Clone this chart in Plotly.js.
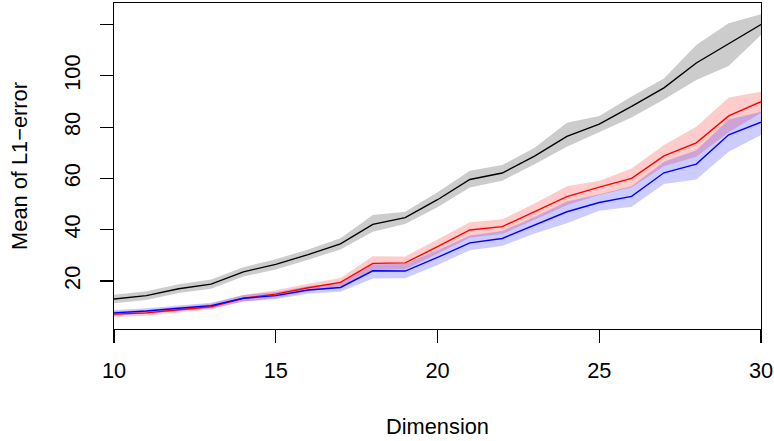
<!DOCTYPE html>
<html>
<head>
<meta charset="utf-8">
<script src="https://cdn.plot.ly/plotly-3.0.1.min.js"></script>
<style>html,body{margin:0;padding:0;background:#fff;}#chart{width:774px;height:441px;}</style>
</head>
<body>
<div id="chart"></div>
<script>
const dims = [10,11,12,13,14,15,16,17,18,19,20,21,22,23,24,25,26,27,28,29,30];

const blackMean  = [13.0,14.3,17.0,18.8,23.6,26.5,30.3,34.5,42.1,44.7,51.7,59.6,62.1,68.7,76.4,81.2,88.1,95.3,105.0,112.5,120.0];
const blackLower = [11.3,12.6,15.3,17.0,21.8,24.5,28.3,32.3,39.2,42.2,48.8,56.5,59.1,65.5,72.4,78.2,83.8,90.8,98.4,103.8,115.9];
const blackUpper = [14.7,16.0,18.7,20.6,25.4,28.5,32.3,36.7,45.7,47.0,54.6,63.0,65.2,72.0,81.7,84.3,91.9,99.0,112.0,120.5,124.0];

const redMean  = [7.1,7.6,8.8,10.0,13.3,14.9,17.4,19.5,26.9,27.1,33.4,39.9,41.2,47.0,52.9,56.6,60.0,68.8,73.9,84.4,89.9];
const redLower = [6.0,6.5,7.7,8.9,12.0,13.4,15.9,17.8,24.3,24.6,30.6,36.9,38.3,43.8,49.5,53.5,56.5,64.8,68.5,78.0,85.5];
const redUpper = [8.2,8.7,9.9,11.1,14.6,16.4,18.9,21.2,29.7,29.6,36.2,42.9,44.1,50.2,57.0,59.1,63.9,73.0,80.2,91.6,93.8];

const blueMean  = [7.6,8.3,9.4,10.4,13.3,14.3,16.5,17.5,24.0,23.9,29.2,34.9,36.6,41.8,47.0,50.6,53.0,62.2,65.6,77.0,81.9];
const blueLower = [6.5,7.2,8.3,9.3,12.0,12.9,15.0,15.8,21.0,21.1,26.3,32.0,33.7,38.5,42.5,47.4,49.0,57.8,59.6,70.4,76.9];
const blueUpper = [8.7,9.4,10.5,11.5,14.6,15.7,18.0,19.2,26.5,26.6,32.0,37.8,39.5,45.0,51.0,53.8,57.0,66.5,71.0,83.0,86.0];

const xTicks = [10,15,20,25,30];
const yTicks = [20,40,60,80,100,120];
const yTickText = ['20','40','60','80','100',''];

function band(lower, upper, color) {
  return [
    {x: dims, y: lower, mode: 'lines', line: {width: 0, color: color}, hoverinfo: 'skip', showlegend: false},
    {x: dims, y: upper, mode: 'lines', line: {width: 0, color: color}, fill: 'tonexty', fillcolor: color, hoverinfo: 'skip', showlegend: false}
  ];
}
function line(y, color) {
  return {x: dims, y: y, mode: 'lines', line: {width: 1.4, color: color}, showlegend: false};
}

const data = [].concat(
  band(blackLower, blackUpper, 'rgba(0,0,0,0.2)'),
  band(redLower, redUpper, 'rgba(255,0,0,0.2)'),
  band(blueLower, blueUpper, 'rgba(0,0,255,0.2)'),
  [line(blackMean, '#000000'), line(redMean, '#ff0000'), line(blueMean, '#0000ff')]
);

const fontFam = '"Liberation Sans", Arial, Helvetica, sans-serif';
const fs = 21.8;
const layout = {
  width: 774, height: 441,
  margin: {l: 114, r: 13, t: 3, b: 112},
  paper_bgcolor: '#fff', plot_bgcolor: '#fff',
  font: {family: fontFam, size: fs, color: '#000'},
  xaxis: {
    range: [10, 30], tickvals: xTicks, ticktext: xTicks.map(String),
    ticks: 'outside', ticklen: 13, tickwidth: 1.2, tickcolor: '#000',
    showline: true, linecolor: '#000', linewidth: 1.2, mirror: true,
    showgrid: false, zeroline: false, ticklabelstandoff: 9,
    tickfont: {family: fontFam, size: fs, color: '#000'},
    title: {text: 'Dimension', font: {family: fontFam, size: fs, color: '#000'}, standoff: 36}
  },
  yaxis: {
    range: [1.3, 128.4], tickvals: yTicks, ticktext: yTickText, tickangle: -90,
    ticks: 'outside', ticklen: 13, tickwidth: 1.2, tickcolor: '#000',
    showline: true, linecolor: '#000', linewidth: 1.2, mirror: true,
    showgrid: false, zeroline: false, ticklabelstandoff: 11,
    tickfont: {family: fontFam, size: fs, color: '#000'},
    title: {text: 'Mean of L1\u2212error', font: {family: fontFam, size: fs, color: '#000'}, standoff: 26}
  }
};

Plotly.newPlot('chart', data, layout, {displayModeBar: false, staticPlot: true});
</script>
</body>
</html>
